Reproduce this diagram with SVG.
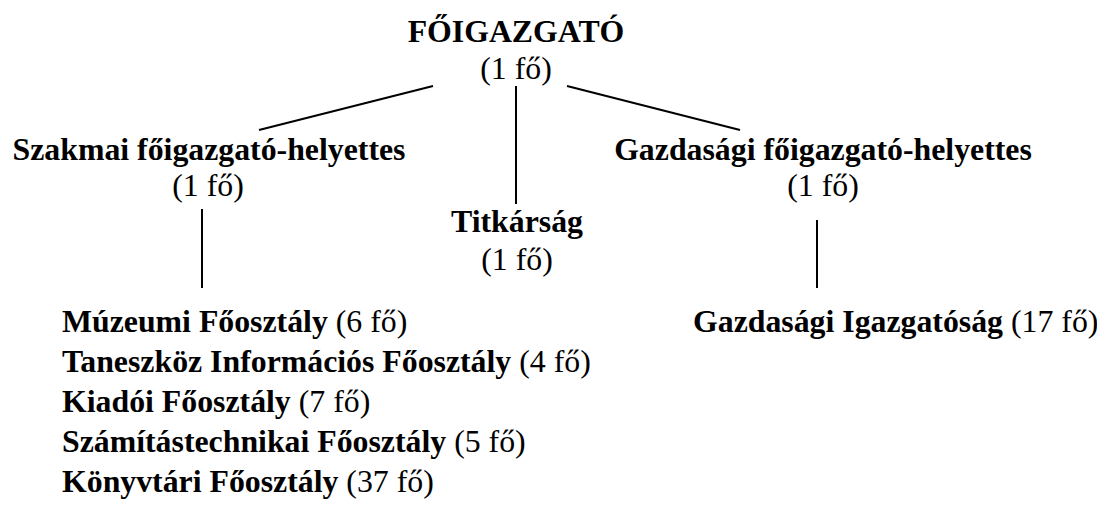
<svg xmlns="http://www.w3.org/2000/svg" width="1097" height="518" viewBox="0 0 1097 518">
<style>
text { font-family: "Liberation Serif", "Times New Roman", serif; font-size: 31.8px; fill: #000; }
.b { font-weight: bold; }
.c { text-anchor: middle; }
.ln { stroke: #000; stroke-width: 2; fill: none; }
</style>
<rect width="1097" height="518" fill="#fff"/>
<g id="connectors">
<line class="ln" x1="433" y1="86" x2="259" y2="130"/>
<line class="ln" x1="516" y1="86" x2="516" y2="204"/>
<line class="ln" x1="567" y1="86" x2="740" y2="130"/>
<line class="ln" x1="202" y1="209" x2="202" y2="288"/>
<line class="ln" x1="817" y1="220" x2="817" y2="288"/>
</g>
<g id="foigazgato">
<text class="b c" x="516" y="42">FŐIGAZGATÓ</text>
<text class="c" x="516" y="79">(1 fő)</text>
</g>
<g id="szakmai">
<text class="b c" x="209" y="160">Szakmai főigazgató-helyettes</text>
<text class="c" x="208" y="196">(1 fő)</text>
</g>
<g id="gazdasagi-helyettes">
<text class="b c" x="823" y="160">Gazdasági főigazgató-helyettes</text>
<text class="c" x="823" y="196">(1 fő)</text>
</g>
<g id="titkarsag">
<text class="b c" x="517" y="232">Titkárság</text>
<text class="c" x="517" y="270">(1 fő)</text>
</g>
<g id="foosztalyok">
<text x="62" y="332"><tspan class="b">Múzeumi Főosztály</tspan> (6 fő)</text>
<text x="62" y="372"><tspan class="b">Taneszköz Információs Főosztály</tspan> (4 fő)</text>
<text x="62" y="412"><tspan class="b">Kiadói Főosztály</tspan> (7 fő)</text>
<text x="62" y="452"><tspan class="b">Számítástechnikai Főosztály</tspan> (5 fő)</text>
<text x="62" y="492"><tspan class="b">Könyvtári Főosztály</tspan> (37 fő)</text>
</g>
<g id="gazdasagi-igazgatosag">
<text x="693" y="332"><tspan class="b">Gazdasági Igazgatóság</tspan> (17 fő)</text>
</g>
</svg>
